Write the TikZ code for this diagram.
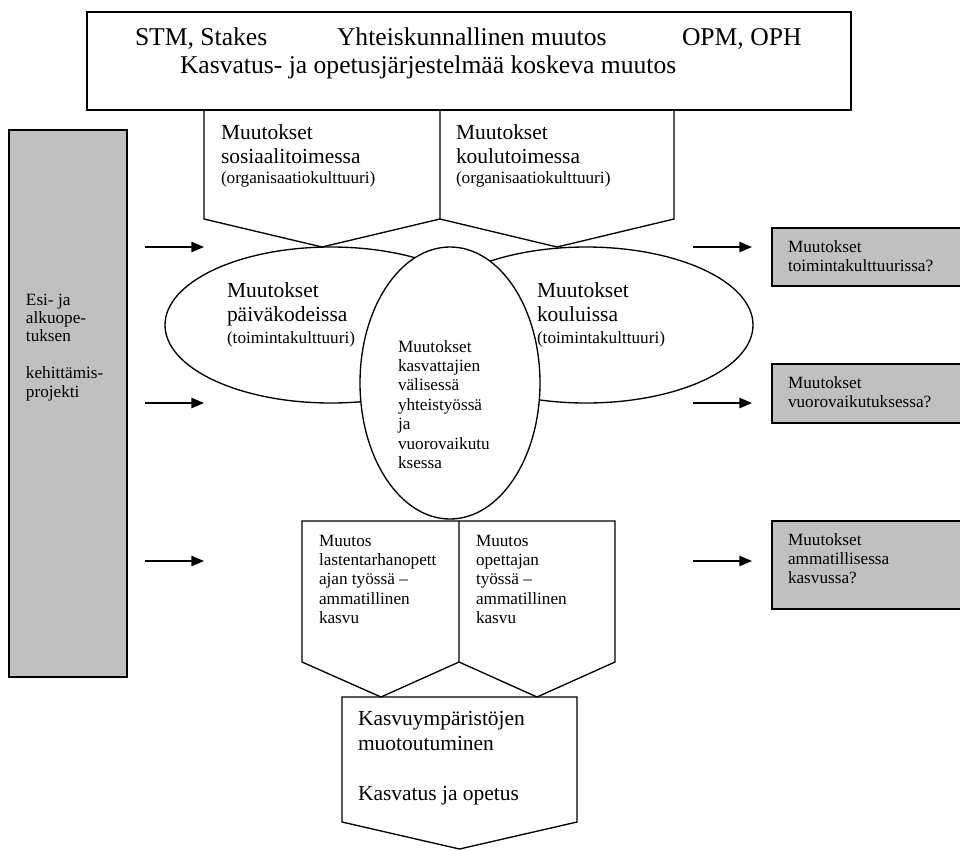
\documentclass[tikz,border=0pt]{standalone}
\usepackage{fontspec}
\setmainfont{Liberation Serif}
\usetikzlibrary{arrows.meta,shapes.geometric}
\definecolor{panelgrey}{RGB}{192,192,192}
% several lines of text whose first baseline is the node's base
\newcommand\txtlines[1]{\begin{tabular}[t]{@{}l@{}}#1\end{tabular}}
\begin{document}
\begin{tikzpicture}[x=0.75pt,y=-0.75pt,
  outline/.style={draw=black,line width=1pt},
  greybox/.style={outline,fill=panelgrey,rectangle,inner sep=0pt},
  plainbox/.style={outline,rectangle,inner sep=0pt},
  oval/.style={outline,fill=white,ellipse,inner sep=0pt},
  txt/.style={anchor=base west,inner sep=0pt,outer sep=0pt},
  bigtext/.style={txt,font=\fontsize{19.2pt}{21pt}\selectfont},
  maintext/.style={txt,font=\fontsize{16.1pt}{18pt}\selectfont},
  smalltext/.style={txt,font=\fontsize{12.9pt}{14.6pt}\selectfont},
  flow/.style={line width=1pt,-{Triangle[length=9.5pt,width=7.8pt]}}
]
\useasboundingbox (0,0) rectangle (960,850);
\clip (0,0) rectangle (960,850);

% heading box
\node[plainbox,minimum width=573pt,minimum height=73.5pt] (topbox) at (469,61) {};

% administrative sectors (top pentagons)
\draw[outline,line join=miter] (204,110) -- (204,219) -- (322,247) -- (440,219) -- (440,110);
\draw[outline,line join=miter] (440,219) -- (557,247) -- (674,219) -- (674,110);

% day-care, school and cooperation ellipses
\node[oval,minimum width=249pt,minimum height=117pt] (daycare) at (331,325) {};
\node[oval,minimum width=250.5pt,minimum height=117pt] (school) at (586,325) {};
\node[oval,minimum width=135pt,minimum height=204pt] (coop) at (450,383) {};

% professional growth (bottom pentagons)
\draw[outline,line join=miter] (459,521) -- (302,521) -- (302,662) -- (381,697) -- (459,662) -- (459,521)
  -- (615,521) -- (615,662) -- (537,697) -- (459,662);

% learning environments
\draw[outline,line join=miter] (342,697) -- (577,697) -- (577,822) -- (459.5,849) -- (342,822) -- cycle;

% development project and outcome boxes
\node[greybox,minimum width=88.5pt,minimum height=410.25pt] (project) at (68,403.5) {};
\node[greybox,minimum width=171pt,minimum height=43.5pt] (out1) at (886,257) {};
\node[greybox,minimum width=171pt,minimum height=44.25pt] (out2) at (886,393.5) {};
\node[greybox,minimum width=171pt,minimum height=66pt] (out3) at (886,565) {};

% arrows
\coordinate (la1) at (145,247); \coordinate (lb1) at (204,247);
\coordinate (la2) at (145,403); \coordinate (lb2) at (204,403);
\coordinate (la3) at (145,561); \coordinate (lb3) at (204,561);
\coordinate (ra1) at (693,247); \coordinate (rb1) at (752,247);
\coordinate (ra2) at (693,403); \coordinate (rb2) at (752,403);
\coordinate (ra3) at (693,561); \coordinate (rb3) at (752,561);
\draw[flow] (la1) -- (lb1);
\draw[flow] (la2) -- (lb2);
\draw[flow] (la3) -- (lb3);
\draw[flow] (ra1) -- (rb1);
\draw[flow] (ra2) -- (rb2);
\draw[flow] (ra3) -- (rb3);

% texts
\node[bigtext] (t1) at (135,45) {STM, Stakes};
\node[bigtext] (t2) at (337,45) {Yhteiskunnallinen muutos};
\node[bigtext] (t3) at (682,45) {OPM, OPH};
\node[bigtext] (t4) at (180,73) {Kasvatus- ja opetusjärjestelmää koskeva muutos};

\node[maintext] (soc) at (221,139) {\txtlines{Muutokset\\sosiaalitoimessa}};
\node[smalltext] (socc) at (221,183) {(organisaatiokulttuuri)};
\node[maintext] (edu) at (456,139) {\txtlines{Muutokset\\koulutoimessa}};
\node[smalltext] (educ) at (456,183) {(organisaatiokulttuuri)};

\node[maintext] (dct) at (227,297) {\txtlines{Muutokset\\päiväkodeissa}};
\node[smalltext] (dcc) at (227,343) {(toimintakulttuuri)};
\node[maintext] (sct) at (537,297) {\txtlines{Muutokset\\kouluissa}};
\node[smalltext] (scc) at (537,343) {(toimintakulttuuri)};

\node[smalltext] (coopt) at (398,352) {\txtlines{Muutokset\\kasvattajien\\välisessä\\yhteistyössä\\ja\\vuorovaikutu\\ksessa}};

\node[smalltext] (kgt) at (319,546) {\txtlines{Muutos\\lastentarhanopett\\ajan työssä –\\ammatillinen\\kasvu}};
\node[smalltext] (tct) at (476,546) {\txtlines{Muutos\\opettajan\\työssä –\\ammatillinen\\kasvu}};

\node[maintext,font=\fontsize{16.1pt}{18.75pt}\selectfont] (envt) at (358,725)
  {\txtlines{Kasvuympäristöjen\\muotoutuminen\\ \\Kasvatus ja opetus}};

\node[smalltext,font=\fontsize{12.9pt}{13.8pt}\selectfont] (projt) at (26,305)
  {\txtlines{Esi- ja\\alkuope-\\tuksen\\ \\kehittämis-\\projekti}};

\node[smalltext] (o1t) at (788,252) {\txtlines{Muutokset\\toimintakulttuurissa?}};
\node[smalltext] (o2t) at (788,388) {\txtlines{Muutokset\\vuorovaikutuksessa?}};
\node[smalltext] (o3t) at (788,545) {\txtlines{Muutokset\\ammatillisessa\\kasvussa?}};
\end{tikzpicture}
\end{document}
